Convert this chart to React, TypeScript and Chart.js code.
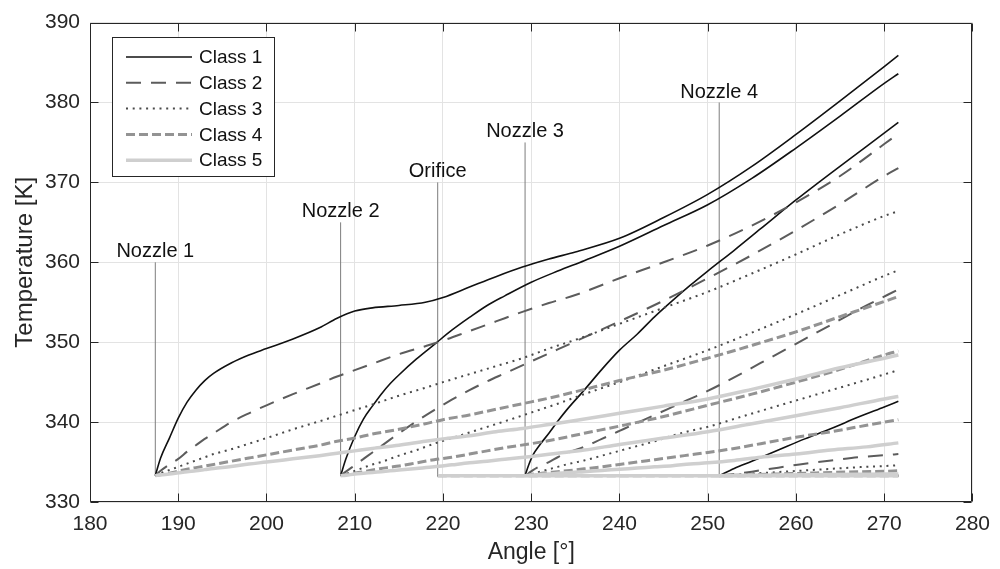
import React, { useEffect, useRef } from "react";
import { Chart, registerables } from "chart.js";

Chart.register(...registerables);

// ---------- data ----------
const classNames = ["Class 1", "Class 2", "Class 3", "Class 4", "Class 5"];
const injectionLabels = ["Nozzle 1", "Nozzle 2", "Orifice", "Nozzle 3", "Nozzle 4"];
const injectionAngles = [187.4, 208.4, 219.4, 229.3, 251.3];
const markerBase = [333.3, 333.3, 333.3, 333.3, 333.3];
const markerTop = [360, 365, 370, 375, 380];

const xTicks = [180, 190, 200, 210, 220, 230, 240, 250, 260, 270, 280];
const yTicks = [330, 340, 350, 360, 370, 380, 390];

// Nozzle 1
const anglesN1 = [187.4, 188, 189, 190, 191, 192, 193, 194, 196, 198, 200, 203, 206, 208, 210, 212, 215, 218, 220, 223, 226, 229, 232, 235, 240, 245, 250, 255, 260, 265, 270, 271.6];
const c1N1 = [333.3, 335.5, 338.0, 340.5, 342.5, 344.0, 345.2, 346.1, 347.4, 348.4, 349.2, 350.4, 351.8, 353.0, 353.9, 354.3, 354.6, 355.0, 355.6, 356.9, 358.2, 359.4, 360.4, 361.3, 363.0, 365.6, 368.5, 372.0, 376.0, 380.2, 384.5, 385.9];
const c2N1 = [333.3, 333.9, 334.7, 335.4, 336.3, 337.1, 337.9, 338.6, 340.0, 341.1, 342.1, 343.5, 344.8, 345.7, 346.5, 347.3, 348.5, 349.5, 350.2, 351.4, 352.6, 353.8, 354.9, 355.9, 358.0, 360.0, 362.1, 364.6, 367.5, 370.8, 374.8, 376.1];
const c3N1 = [333.3, 333.6, 334.0, 334.4, 334.8, 335.2, 335.6, 336.0, 336.6, 337.3, 338.0, 339.1, 340.1, 340.8, 341.5, 342.2, 343.3, 344.3, 345.0, 346.0, 347.0, 348.0, 349.2, 350.3, 352.3, 354.3, 356.3, 358.6, 361.0, 363.5, 365.8, 366.4];
const c4N1 = [333.3, 333.4, 333.6, 333.85, 334.1, 334.3, 334.5, 334.7, 335.1, 335.5, 335.9, 336.5, 337.1, 337.6, 338.0, 338.5, 339.1, 339.8, 340.3, 340.9, 341.6, 342.3, 343.0, 343.8, 345.2, 346.5, 348.0, 349.6, 351.3, 353.2, 355.1, 355.7];
const c5N1 = [333.3, 333.4, 333.5, 333.65, 333.8, 333.9, 334.05, 334.2, 334.45, 334.75, 335.0, 335.4, 335.8, 336.1, 336.4, 336.7, 337.1, 337.6, 337.9, 338.3, 338.8, 339.2, 339.7, 340.2, 341.1, 342.0, 342.9, 344.1, 345.4, 346.8, 348.0, 348.4];

// Nozzle 2
const anglesN2 = [208.4, 209, 210, 211, 212, 213, 214, 215, 217, 219, 221, 223, 225, 227, 230, 233, 236, 240, 245, 250, 255, 260, 265, 270, 271.6];
const c1N2 = [333.3, 335.4, 338.2, 340.4, 342.0, 343.5, 344.8, 345.9, 347.9, 349.7, 351.5, 353.1, 354.6, 355.8, 357.5, 358.9, 360.2, 362.0, 364.6, 367.2, 370.5, 374.3, 378.3, 382.4, 383.6];
const c2N2 = [333.3, 333.8, 334.6, 335.4, 336.2, 337.0, 337.8, 338.6, 340.1, 341.5, 342.8, 344.0, 345.1, 346.1, 347.6, 349.1, 350.6, 352.6, 355.2, 358.0, 360.9, 364.0, 367.3, 370.8, 371.8];
const c3N2 = [333.3, 333.5, 333.9, 334.3, 334.7, 335.0, 335.4, 335.8, 336.5, 337.3, 338.0, 338.7, 339.4, 340.1, 341.2, 342.3, 343.5, 345.0, 347.0, 349.0, 351.2, 353.5, 355.9, 358.3, 359.0];
const c4N2 = [333.3, 333.4, 333.6, 333.8, 334.0, 334.2, 334.35, 334.5, 334.9, 335.3, 335.6, 336.0, 336.4, 336.8, 337.3, 337.9, 338.6, 339.5, 340.7, 342.1, 343.5, 345.0, 346.6, 348.4, 348.9];
const c5N2 = [333.3, 333.35, 333.5, 333.6, 333.7, 333.8, 333.9, 334.0, 334.2, 334.4, 334.65, 334.9, 335.1, 335.35, 335.7, 336.1, 336.5, 337.2, 338.0, 338.8, 339.8, 340.8, 341.8, 342.9, 343.2];

// Orifice
const anglesOr = [219.4, 271.6];
const c1Or = [333.3, 333.3];
const c2Or = [333.3, 333.3];
const c3Or = [333.3, 333.3];
const c4Or = [333.3, 333.3];
const c5Or = [333.3, 333.3];

// Nozzle 3
const anglesN3 = [229.3, 229.7, 230.2, 231, 232, 233, 234, 236, 238, 240, 242, 244, 246, 248, 250, 253, 256, 260, 264, 268, 271.6];
const c1N3 = [333.3, 334.6, 335.9, 337.2, 338.6, 340.1, 341.5, 344.0, 346.6, 349.0, 351.0, 353.2, 355.2, 357.1, 358.9, 361.5, 364.2, 367.8, 371.2, 374.5, 377.5];
const c2N3 = [333.3, 333.6, 334.0, 334.5, 335.0, 335.6, 336.1, 336.9, 337.9, 338.9, 339.9, 340.9, 341.9, 342.9, 343.9, 345.6, 347.4, 349.8, 352.2, 354.6, 356.6];
const c3N3 = [333.3, 333.4, 333.55, 333.8, 334.1, 334.4, 334.7, 335.2, 335.8, 336.4, 337.0, 337.6, 338.3, 338.9, 339.4, 340.4, 341.4, 342.7, 344.0, 345.3, 346.5];
const c4N3 = [333.3, 333.35, 333.45, 333.55, 333.7, 333.8, 333.9, 334.15, 334.4, 334.7, 335.0, 335.3, 335.6, 335.9, 336.2, 336.7, 337.3, 338.1, 338.8, 339.6, 340.3];
const c5N3 = [333.3, 333.33, 333.37, 333.45, 333.5, 333.6, 333.65, 333.8, 333.95, 334.1, 334.25, 334.4, 334.55, 334.75, 334.9, 335.2, 335.6, 336.0, 336.5, 336.9, 337.4];

// Nozzle 4
const anglesN4 = [251.3, 253, 255, 258, 261, 264, 267, 270, 271.6];
const c1N4 = [333.3, 334.2, 335.1, 336.5, 337.9, 339.2, 340.6, 341.9, 342.6];
const c2N4 = [333.3, 333.5, 333.8, 334.3, 334.8, 335.2, 335.6, 335.85, 336.0];
const c3N4 = [333.3, 333.4, 333.55, 333.75, 333.95, 334.15, 334.35, 334.5, 334.6];
const c4N4 = [333.3, 333.35, 333.42, 333.52, 333.6, 333.7, 333.78, 333.85, 333.9];
const c5N4 = [333.3, 333.32, 333.34, 333.37, 333.4, 333.43, 333.46, 333.49, 333.5];

// ---------- styles ----------
const FONT = '"Liberation Sans", Arial, Helvetica, sans-serif';
const classColors = ["#111111", "#5c5c5c", "#4a4a4a", "#939393", "#cfcfcf"];
const classWidths = [1.6, 2, 2, 3, 3.5];
const classDashes: number[][] = [[], [15, 10], [2, 4.7], [9, 4], []];
const axisColor = "#262626";

const groups = [
  { angles: anglesN1, temps: [c1N1, c2N1, c3N1, c4N1, c5N1] },
  { angles: anglesN2, temps: [c1N2, c2N2, c3N2, c4N2, c5N2] },
  { angles: anglesOr, temps: [c1Or, c2Or, c3Or, c4Or, c5Or] },
  { angles: anglesN3, temps: [c1N3, c2N3, c3N3, c4N3, c5N3] },
  { angles: anglesN4, temps: [c1N4, c2N4, c3N4, c4N4, c5N4] },
];

export default function App() {
  const ref = useRef<HTMLCanvasElement | null>(null);

  useEffect(() => {
    if (!ref.current) return;
    const datasets: any[] = [];
    // marker lines
    injectionAngles.forEach((a, i) => {
      datasets.push({
        label: "marker-" + injectionLabels[i],
        data: [
          { x: a, y: markerBase[i] },
          { x: a, y: markerTop[i] },
        ],
        borderColor: "#7d7d7d",
        borderWidth: 1,
        pointRadius: 0,
        fill: false,
        order: 10,
      });
    });
    groups.forEach((g, gi) => {
      g.temps.forEach((temps, ci) => {
        datasets.push({
          label: classNames[ci] + " " + injectionLabels[gi],
          data: g.angles.map((a, k) => ({ x: a, y: temps[k] })),
          borderColor: classColors[ci],
          borderWidth: classWidths[ci],
          borderDash: classDashes[ci],
          borderCapStyle: "butt",
          pointRadius: 0,
          fill: false,
          cubicInterpolationMode: "monotone",
          order: 4 - ci,
        });
      });
    });

    const framePlugin = {
      id: "frame",
      afterDatasetsDraw(chart: any) {
        const { ctx, chartArea: ca, scales } = chart;
        const xs = scales.x;
        const ys = scales.y;
        ctx.save();
        // annotations
        ctx.fillStyle = "#111111";
        ctx.font = `20px ${FONT}`;
        ctx.textAlign = "center";
        ctx.textBaseline = "alphabetic";
        injectionAngles.forEach((a, i) => {
          const px = xs.getPixelForValue(a);
          const py = ys.getPixelForValue(markerTop[i]) - 5;
          ctx.fillText(injectionLabels[i], px, py);
        });
        // frame and inward ticks
        ctx.strokeStyle = axisColor;
        ctx.lineWidth = 1;
        const L = Math.round(ca.left) + 0.5;
        const R = Math.round(ca.right) - 0.5;
        const T = Math.round(ca.top) + 0.5;
        const B = Math.round(ca.bottom) - 0.5;
        ctx.beginPath();
        ctx.rect(L, T, R - L, B - T);
        const tl = 8;
        xTicks.forEach((v) => {
          const px = Math.round(xs.getPixelForValue(v)) + 0.5;
          ctx.moveTo(px, B);
          ctx.lineTo(px, B - tl);
          ctx.moveTo(px, T);
          ctx.lineTo(px, T + tl);
        });
        yTicks.forEach((v) => {
          const py = Math.round(ys.getPixelForValue(v)) + 0.5;
          ctx.moveTo(L, py);
          ctx.lineTo(L + tl, py);
          ctx.moveTo(R, py);
          ctx.lineTo(R - tl, py);
        });
        ctx.stroke();
        ctx.restore();
      },
      afterDraw(chart: any) {
        const { ctx } = chart;
        ctx.save();
        const bx = 112.5, by = 37.5, bw = 162, bh = 139;
        ctx.fillStyle = "#ffffff";
        ctx.fillRect(bx, by, bw, bh);
        ctx.strokeStyle = axisColor;
        ctx.lineWidth = 1;
        ctx.strokeRect(bx, by, bw, bh);
        ctx.font = `19px ${FONT}`;
        ctx.textAlign = "left";
        ctx.textBaseline = "middle";
        classNames.forEach((name, i) => {
          const y = 57 + i * 25.8;
          ctx.beginPath();
          ctx.strokeStyle = classColors[i];
          ctx.lineWidth = classWidths[i];
          ctx.setLineDash(classDashes[i]);
          ctx.moveTo(126, y);
          ctx.lineTo(192, y);
          ctx.stroke();
          ctx.setLineDash([]);
          ctx.fillStyle = "#111111";
          ctx.fillText(name, 199, y + 1);
        });
        ctx.restore();
      },
    };

    const chart = new Chart(ref.current, {
      type: "line",
      data: { datasets },
      options: {
        animation: false,
        responsive: false,
        maintainAspectRatio: false,
        devicePixelRatio: 1,
        parsing: true,
        layout: { padding: { left: 0, top: 16, right: 22, bottom: 0 } },
        plugins: { legend: { display: false }, tooltip: { enabled: false } },
        scales: {
          x: {
            type: "linear",
            min: 180,
            max: 280,
            afterFit: (s: any) => {
              s.height = 67;
            },
            afterBuildTicks: (s: any) => {
              s.ticks = xTicks.map((v) => ({ value: v }));
            },
            ticks: {
              autoSkip: false,
              maxRotation: 0,
              padding: 10,
              color: axisColor,
              font: { family: FONT, size: 21 },
            },
            grid: { color: "#e3e3e3", drawTicks: false, lineWidth: 1 },
            border: { display: false },
            title: {
              display: true,
              text: "Angle [°]",
              color: axisColor,
              font: { family: FONT, size: 23 },
              padding: { top: 0, bottom: 3 },
            },
          },
          y: {
            type: "linear",
            min: 330,
            max: 390,
            afterFit: (s: any) => {
              s.width = 90;
            },
            afterBuildTicks: (s: any) => {
              s.ticks = yTicks.map((v) => ({ value: v }));
            },
            ticks: {
              autoSkip: false,
              padding: 10,
              color: axisColor,
              font: { family: FONT, size: 21 },
            },
            grid: { color: "#e3e3e3", drawTicks: false, lineWidth: 1 },
            border: { display: false },
            title: {
              display: true,
              text: "Temperature [K]",
              color: axisColor,
              font: { family: FONT, size: 24 },
              padding: { top: 11, bottom: 0 },
            },
          },
        },
      } as any,
      plugins: [framePlugin],
    });
    return () => chart.destroy();
  }, []);

  return (
    <div style={{ position: "absolute", left: 0, top: 0, width: 1000, height: 569, background: "#ffffff" }}>
      <canvas ref={ref} width={1000} height={569} style={{ display: "block" }} />
    </div>
  );
}
